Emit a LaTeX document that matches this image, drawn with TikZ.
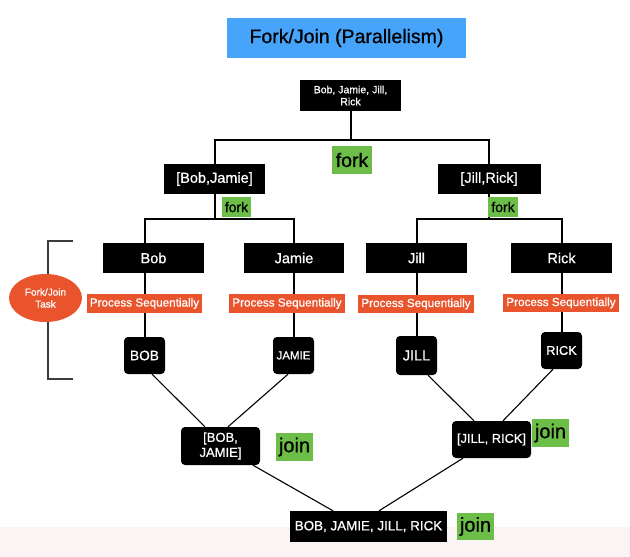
\documentclass[tikz,border=0pt]{standalone}
\usepackage{fontspec}
\setmainfont{Liberation Sans}[FakeBold=0.8]
\usetikzlibrary{backgrounds,shapes.geometric}
\definecolor{tblue}{RGB}{70,165,250}
\definecolor{tgreen}{RGB}{108,190,72}
\definecolor{torange}{RGB}{233,84,45}
\definecolor{tband}{RGB}{250,244,244}
\definecolor{tbrack}{RGB}{60,60,60}
\begin{document}
\begin{tikzpicture}[x=1pt,y=-1pt,
  blk/.style={fill=black,text=white,inner sep=0pt,align=center},
  rblk/.style={blk,rounded corners=4pt},
  grn/.style={fill=tgreen,text=black,inner sep=0pt},
  org/.style={fill=torange,text=white,inner sep=0pt},
  tree/.style={line width=2pt,black},
  diag/.style={line width=1.1pt,black}]
\useasboundingbox (0,0) rectangle (630,557);
\fill[tband] (0,527) rectangle (630,557);

% title
\node[fill=tblue,minimum width=239,minimum height=40,inner sep=0pt,font=\fontsize{19.5}{22}\selectfont] (title) at (346.5,38) {Fork/Join (Parallelism)};

% top
\node[blk,minimum width=101,minimum height=31,font=\fontsize{10.5}{12}\selectfont] (top) at (350.5,95.5) {Bob, Jamie, Jill,\\Rick};
\node[grn,minimum width=40,minimum height=28,font=\fontsize{19.5}{22}\selectfont] (fork1) at (352,160) {fork};

% level 1
\node[blk,minimum width=101,minimum height=30,font=\fontsize{14.5}{17}\selectfont] (bj) at (214.5,179) {[Bob,Jamie]};
\node[blk,minimum width=103,minimum height=30,font=\fontsize{14.5}{17}\selectfont] (jr) at (489,179) {[Jill,Rick]};
\node[grn,minimum width=29,minimum height=20,font=\fontsize{14}{16}\selectfont] (fork2) at (236.5,207) {fork};
\node[grn,minimum width=30,minimum height=20,font=\fontsize{14}{16}\selectfont] (fork3) at (503,207) {fork};

% level 2
\node[blk,minimum width=101,minimum height=30,font=\fontsize{14.5}{17}\selectfont] (bob) at (153.5,258) {Bob};
\node[blk,minimum width=100,minimum height=30,font=\fontsize{14.5}{17}\selectfont] (jamie) at (294,258) {Jamie};
\node[blk,minimum width=101,minimum height=30,font=\fontsize{14.5}{17}\selectfont] (jill) at (416.5,258) {Jill};
\node[blk,minimum width=101,minimum height=30,font=\fontsize{14.5}{17}\selectfont] (rick) at (561.5,258) {Rick};

% process
\node[org,minimum width=115,minimum height=19,font=\fontsize{11.7}{13}\selectfont] (p1) at (144.5,303.5) {Process Sequentially};
\node[org,minimum width=116,minimum height=19,font=\fontsize{11.7}{13}\selectfont] (p2) at (287,303.5) {Process Sequentially};
\node[org,minimum width=116,minimum height=18,font=\fontsize{11.7}{13}\selectfont] (p3) at (416,304) {Process Sequentially};
\node[org,minimum width=116,minimum height=18,font=\fontsize{11.7}{13}\selectfont] (p4) at (561,303) {Process Sequentially};

% results
\node[rblk,minimum width=41,minimum height=37,font=\fontsize{13.7}{16}\selectfont] (BOBr) at (144.5,355.5) {BOB};
\node[rblk,minimum width=41,minimum height=37,font=\fontsize{11.5}{13}\selectfont] (JAMIEr) at (293.5,355.5) {JAMIE};
\node[rblk,minimum width=41,minimum height=39,font=\fontsize{14.5}{16}\selectfont] (JILLr) at (416.5,355.5) {JILL};
\node[rblk,minimum width=41,minimum height=37,font=\fontsize{12.8}{15}\selectfont] (RICKr) at (561.5,350.5) {RICK};

% joins
\node[rblk,minimum width=79,minimum height=38,font=\fontsize{13}{15}\selectfont] (BJr) at (220.5,446) {[BOB,\\JAMIE]};
\node[grn,minimum width=37,minimum height=28,font=\fontsize{20}{22}\selectfont] (join1) at (294.5,447) {join};
\node[rblk,minimum width=79,minimum height=37,font=\fontsize{12.8}{15}\selectfont] (JRr) at (491.5,439.5) {[JILL, RICK]};
\node[grn,minimum width=37,minimum height=28,font=\fontsize{20}{22}\selectfont] (join2) at (550.5,433) {join};
\node[blk,minimum width=157,minimum height=31,font=\fontsize{13.4}{15}\selectfont] (final) at (368.5,526.5) {BOB, JAMIE, JILL, RICK};
\node[grn,minimum width=37,minimum height=27,font=\fontsize{20}{22}\selectfont] (join3) at (475.5,526.5) {join};

% bracket and task ellipse
\draw[tbrack,line width=1.3pt] (73,241) -- (48,241) -- (48,379) -- (73,379);
\node[ellipse,fill=torange,text=white,inner sep=0pt,minimum width=73,minimum height=48,align=center,font=\fontsize{10}{12}\selectfont] (task) at (45.5,298) {Fork/Join\\Task};

% tree connectors
\coordinate (h1) at (350.5,140);
\coordinate (h2) at (214.5,219);
\coordinate (h3) at (489,219);
\begin{scope}[on background layer]
\draw[tree] (top.south) -- (h1);
\draw[tree] (bj.north) |- (h1) -| (jr.north);
\draw[tree] (bj.south) -- (h2);
\draw[tree] (BOBr.north) |- (h2) -| (JAMIEr.north);
\draw[tree] (jr.south) -- (h3);
\draw[tree] (JILLr.north) |- (h3) -| (RICKr.north);
\end{scope}

% join connectors
\draw[diag] ([xshift=7.5]BOBr.south) -- ([xshift=-15.5]BJr.north);
\draw[diag] ([xshift=-5.5]JAMIEr.south) -- ([xshift=7.5]BJr.north);
\draw[diag] ([xshift=11.5]JILLr.south) -- ([xshift=-17.5]JRr.north);
\draw[diag] ([xshift=-8.5]RICKr.south) -- ([xshift=11.5]JRr.north);
\draw[diag] ([xshift=32.5]BJr.south) -- ([xshift=-35.5]final.north);
\draw[diag] ([xshift=-28.5]JRr.south) -- ([xshift=10.5]final.north);
\end{tikzpicture}
\end{document}
